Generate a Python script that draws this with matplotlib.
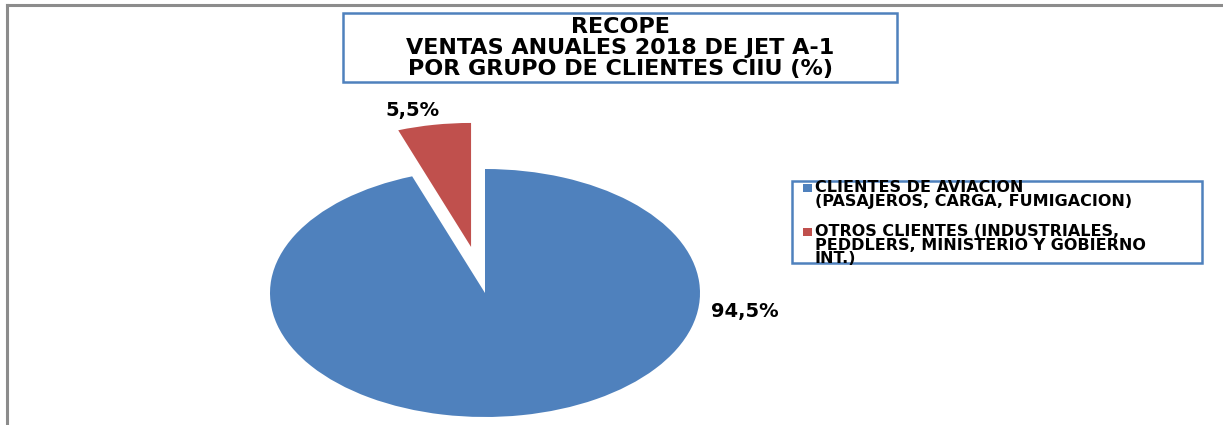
import matplotlib
matplotlib.use("Agg")
import matplotlib.pyplot as plt
from matplotlib.patches import Rectangle
from matplotlib.lines import Line2D

# --- Data ---
categories = [
    "CLIENTES DE AVIACION\n(PASAJEROS, CARGA, FUMIGACION)",
    "OTROS CLIENTES (INDUSTRIALES,\nPEDDLERS, MINISTERIO Y GOBIERNO\nINT.)",
]
shares = [94.5, 5.5]
colors = ["#4F81BD", "#C0504D"]
title_lines = ["RECOPE", "VENTAS ANUALES 2018 DE JET A-1", "POR GRUPO DE CLIENTES CIIU (%)"]

W, H = 1223, 425
BORDER_BLUE = "#4F81BD"


def fx(px):
    return px / W


def fy(py):
    # py measured from the top of the image
    return 1 - py / H


fig = plt.figure(figsize=(W / 100, H / 100), dpi=100)
fig.patch.set_facecolor("white")

# --- Pie, stretched into an ellipse like the original ---
ax = fig.add_axes([0, 0, 1, 1])
cx, cy = 485, 293      # pie centre (pixels from top-left)
rx, ry = 215, 124      # horizontal / vertical radius in pixels
ax.pie(shares, colors=colors, startangle=90, counterclock=False,
       explode=[0, 0.377], wedgeprops=dict(linewidth=0))
ax.set_aspect("auto")
ax.set_xlim(-cx / rx, (W - cx) / rx)
ax.set_ylim(-(H - cy) / ry, cy / ry)
ax.axis("off")

pct = [f"{v:.1f}%".replace(".", ",") for v in shares]
ax.text(1.209, -0.153, pct[0], ha="center", va="center",
        fontsize=14, fontweight="bold", family="DejaVu Sans")
ax.text(-0.335, 1.468, pct[1], ha="center", va="center",
        fontsize=14, fontweight="bold", family="DejaVu Sans")

# --- Outer chart frame (top and left edges visible) ---
fig.add_artist(Line2D([fx(7), 1], [fy(5), fy(5)], color="#8C8C8C", lw=2.2))
fig.add_artist(Line2D([fx(7), fx(7)], [fy(5), 0], color="#8C8C8C", lw=2.2))

# --- Title box ---
fig.add_artist(Rectangle((fx(343), fy(82)), fx(897 - 343), (82 - 13) / H,
                         transform=fig.transFigure, facecolor="white",
                         edgecolor=BORDER_BLUE, lw=1.8))
for line, ty in zip(title_lines, [27, 48, 69]):
    fig.text(fx(620), fy(ty), line, ha="center", va="center",
             fontsize=16, fontweight="bold", family="DejaVu Sans")

# --- Legend box ---
fig.add_artist(Rectangle((fx(792), fy(263)), fx(1202 - 792), (263 - 181) / H,
                         transform=fig.transFigure, facecolor="white",
                         edgecolor=BORDER_BLUE, lw=1.8))
for label, col, ty in zip(categories, colors, [188, 232]):
    fig.add_artist(Rectangle((fx(803), fy(ty + 4)), fx(9), 8 / H,
                             transform=fig.transFigure, facecolor=col, lw=0))
    for k, part in enumerate(label.split("\n")):
        fig.text(fx(815), fy(ty + 13.3 * k), part, ha="left", va="center",
                 fontsize=11.5, fontweight="bold", family="DejaVu Sans")

fig.savefig("out.png", dpi=100, facecolor="white")
